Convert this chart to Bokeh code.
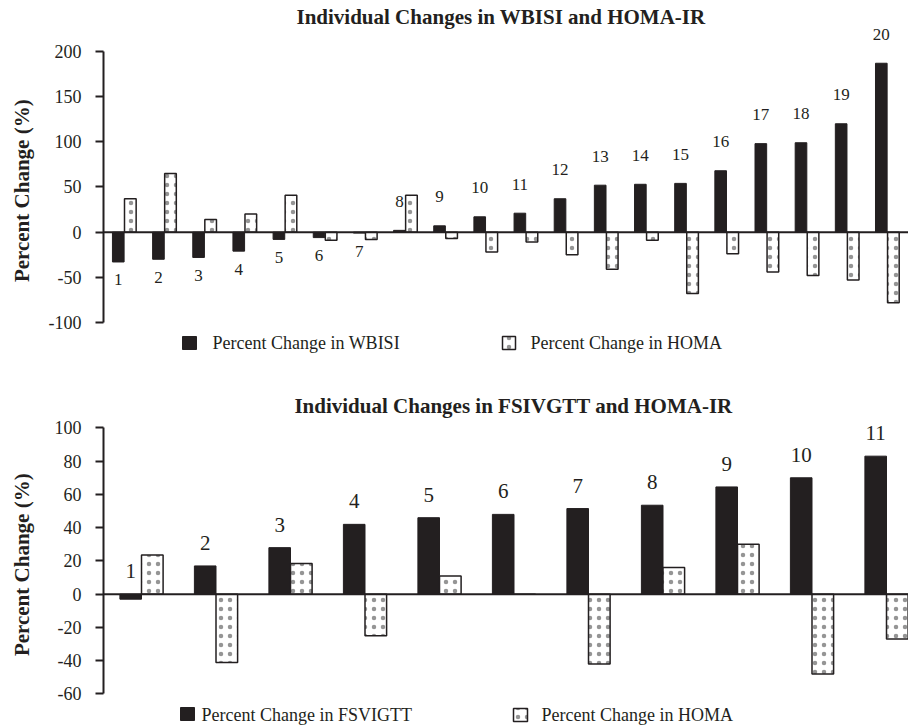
from bokeh.plotting import figure
from bokeh.layouts import column
from bokeh.models import Range1d, Span, FixedTicker, ColumnDataSource
from bokeh.transform import dodge
from bokeh.core.properties import value
from bokeh.embed import file_html
from bokeh.resources import INLINE

# ---------------- data ----------------
subjects_top = list(range(1, 21))
wbisi_change = [-33, -30, -28, -21, -8, -6, -1, 2, 7, 17, 21, 37, 52, 53, 54, 68, 98, 99, 120, 187]
homa_change_top = [37, 65, 14, 20, 41, -9, -8, 41, -7, -22, -11, -25, -41, -9, -68, -24, -44, -48, -53, -78]

subjects_bottom = list(range(1, 12))
fsivgtt_change = [-3, 17, 28, 42, 46, 48, 51.5, 53.5, 64.5, 70, 83]
homa_change_bottom = [23.5, -41, 18.5, -25, 11, 0, -42, 16, 30, -48, -27]

top_ticks = [-100, -50, 0, 50, 100, 150, 200]
bottom_ticks = [-60, -40, -20, 0, 20, 40, 60, 80, 100]

title_top = "Individual Changes in WBISI and HOMA-IR"
title_bottom = "Individual Changes in FSIVGTT and HOMA-IR"
y_title = "Percent Change (%)"
legend_top = ["Percent Change in WBISI", "Percent Change in HOMA"]
legend_bottom = ["Percent Change in FSVIGTT", "Percent Change in HOMA"]

# ---------------- style ----------------
INK = "#231f20"
SERIF = "Liberation Serif"
W = 908
LEFT = 103
HATCH = dict(hatch_pattern="dot", hatch_color="#959595", hatch_scale=9, hatch_weight=1)


class PageMap:
    """convert page pixel positions to data coordinates of a figure"""
    def __init__(self, page_left, x_left, px_per_x, page_top, y_top, px_per_y):
        self.pl, self.xl, self.sx = page_left, x_left, px_per_x
        self.pt, self.yt, self.sy = page_top, y_top, px_per_y

    def x(self, px):
        return self.xl + (px - self.pl) / self.sx

    def y(self, py):
        return self.yt - (py - self.pt) / self.sy


def make_fig(height, m, ticks, bounds, label_standoff, pad):
    x1 = m.x(W)
    y0 = m.y(m.pt + height)
    p = figure(width=W, height=height,
               x_range=Range1d(m.xl, x1), y_range=Range1d(y0, m.yt),
               x_axis_type=None, output_backend="svg", toolbar_location=None,
               min_border_left=LEFT, min_border_right=0, min_border_top=0, min_border_bottom=0)
    p.outline_line_color = None
    p.ygrid.grid_line_color = None
    p.background_fill_color = "white"
    p.border_fill_color = "white"
    ax = p.yaxis[0]
    ax.ticker = FixedTicker(ticks=ticks)
    ax.major_label_overrides = {t: str(t) for t in ticks}
    ax.bounds = bounds
    ax.axis_line_color = INK
    ax.axis_line_width = 2
    ax.major_tick_out = 8
    ax.major_tick_in = 0
    ax.major_tick_line_width = 2
    ax.major_tick_line_color = INK
    ax.minor_tick_line_color = None
    ax.major_label_text_font = SERIF
    ax.major_label_text_font_size = "18px"
    ax.major_label_text_color = INK
    ax.major_label_standoff = 14
    # trailing no-break spaces nudge the centred title down along the axis
    ax.axis_label = y_title + "\u00a0" * pad
    ax.axis_label_text_font = SERIF
    ax.axis_label_text_font_style = "bold"
    ax.axis_label_text_font_size = "21px"
    ax.axis_label_text_color = INK
    ax.axis_label_standoff = label_standoff
    p.add_layout(Span(location=0, dimension="width", line_color=INK, line_width=2))
    return p


def draw_bars(p, subjects, main, homa, off, width, label_size, up_gap, down_gap, below_neg):
    labels = [str(s) for s in subjects]
    neg = [below_neg and v < 0 for v in main]
    ypos = [v if n else max(v, 0) for v, n in zip(main, neg)]
    yoff = [down_gap if n else -up_gap for n in neg]
    src = ColumnDataSource(dict(subject=subjects, main=main, homa=homa,
                                label=labels, ly=ypos, yoff=yoff))
    p.vbar(x=dodge("subject", -off, range=p.x_range), top="main", bottom=0, width=width,
           source=src, fill_color=INK, line_color=INK, line_width=1)
    p.vbar(x=dodge("subject", off, range=p.x_range), top="homa", bottom=0, width=width,
           source=src, fill_color="white", line_color=INK, line_width=1.5, **HATCH)
    p.text(x=dodge("subject", -off, range=p.x_range), y="ly", text="label", y_offset="yoff",
           source=src, text_font=value(SERIF), text_font_size=label_size,
           text_color=INK, text_align="center", text_baseline="middle")
    return src


def draw_title(p, m, text, cx, cy):
    p.text(x=[m.x(cx)], y=[m.y(cy)], text=[text], text_font=value(SERIF),
           text_font_size="21px", text_font_style="bold", text_color=INK,
           text_align="center", text_baseline="middle")


def draw_legend(p, m, items, sq, tx, cy):
    for (l, r, t, b), x_text, label, filled in zip(sq, tx, items, [True, False]):
        if filled:
            p.quad(left=[m.x(l)], right=[m.x(r)], top=[m.y(t)], bottom=[m.y(b)],
                   fill_color=INK, line_color=INK)
        else:
            p.quad(left=[m.x(l)], right=[m.x(r)], top=[m.y(t)], bottom=[m.y(b)],
                   fill_color="white", line_color=INK, line_width=1.5, **HATCH)
        p.text(x=[m.x(x_text)], y=[m.y(cy)], text=[label], text_font=value(SERIF),
               text_font_size="18px", text_color=INK, text_align="left", text_baseline="middle")


# ---------------- top chart ----------------
H1 = 370
m1 = PageMap(LEFT, 1 + (LEFT - 123.8) / 40.16, 40.16, 0, 200 + 51 / 0.90333, 0.90333)
p1 = make_fig(H1, m1, top_ticks, (-100, 200), 12, 2)
draw_bars(p1, subjects_top, wbisi_change, homa_change_top, 0.15, 0.29, "17px", 29, 18, True)
draw_title(p1, m1, title_top, 500.5, 16)
draw_legend(p1, m1, legend_top,
            [(182, 196, 336, 349), (502, 515, 336, 349)], [212, 530], 342)

# ---------------- bottom chart ----------------
H2 = 357
m2 = PageMap(LEFT, 1 + (LEFT - 141) / 74.5, 74.5, 370, 100 + (427.4 - 370) / 1.663, 1.663)
p2 = make_fig(H2, m2, bottom_ticks, (-60, 100), 18, 6)
draw_bars(p2, subjects_bottom, fsivgtt_change, homa_change_bottom, 0.145, 0.29, "21px", 23, 23, False)
draw_title(p2, m2, title_bottom, 513, 405.5)
draw_legend(p2, m2, legend_bottom,
            [(180, 194, 707, 720), (513, 527, 708, 721)], [201, 541], 714)

layout = column(p1, p2, spacing=0)
open("out.html", "w").write(file_html(layout, INLINE))
